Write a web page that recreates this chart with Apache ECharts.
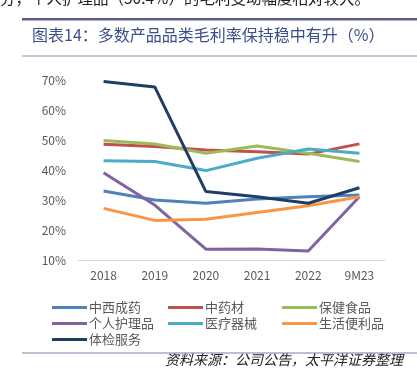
<!DOCTYPE html>
<html><head><meta charset="utf-8">
<script src="https://cdn.jsdelivr.net/npm/echarts@6/dist/echarts.min.js"></script>
<style>html,body{margin:0;padding:0;background:#fff}#c{width:417px;height:385px}</style>
</head><body><div id="c"></div>
<script>
var categories = ['2018','2019','2020','2021','2022','9M23'];
var zhongxichengyao = [33.0, 30.0, 28.9, 30.3, 31.1, 31.7];
var zhongyaocai = [48.6, 47.8, 46.7, 46.1, 45.3, 48.7];
var baojianshipin = [49.8, 48.7, 45.6, 48.0, 45.6, 42.8];
var gerenhuli = [39.1, 28.3, 13.6, 13.7, 13.0, 31.1];
var yiliaoqixie = [43.1, 42.8, 39.8, 43.9, 47.0, 45.6];
var shenghuobianli = [27.2, 23.2, 23.6, 25.8, 28.1, 31.1];
var tijianfuwu = [69.5, 67.7, 32.8, 31.1, 28.9, 34.1];
var seriesNames = ['中西成药','中药材','保健食品','个人护理品','医疗器械','生活便利品','体检服务'];
var seriesData = [zhongxichengyao, zhongyaocai, baojianshipin, gerenhuli, yiliaoqixie, shenghuobianli, tijianfuwu];
var colors = ['#4F81BD','#C0504D','#9BBB59','#8064A2','#4BACC6','#F79646','#1F3D66'];
var yTicks = {min: 10, max: 70, interval: 10};

var FONT = '"Noto Sans CJK SC", "Noto Sans", sans-serif';
var chart = echarts.init(document.getElementById('c'), null, {renderer: 'canvas'});
var legendCommon = {
  orient: 'vertical', itemWidth: 35, itemHeight: 13, itemGap: 3,
  icon: 'path://M0,5 L35,5 L35,8 L0,8 Z',
  textStyle: {fontFamily: FONT, fontSize: 13, color: '#595959', padding: [0,0,0,-3]}
};
chart.setOption({
  animation: false,
  color: colors,
  textStyle: {fontFamily: FONT},
  grid: {left: 78, right: 32, top: 80, bottom: 125},
  xAxis: {
    type: 'category', data: categories, boundaryGap: true,
    axisLine: {lineStyle: {color: '#d9d9d9', width: 1}},
    axisTick: {show: false},
    axisLabel: {color: '#595959', fontSize: 12, margin: 9, fontFamily: FONT}
  },
  yAxis: {
    type: 'value', min: yTicks.min, max: yTicks.max, interval: yTicks.interval,
    axisLine: {show: false}, axisTick: {show: false}, splitLine: {show: false},
    axisLabel: {color: '#595959', fontSize: 12, margin: 12, fontFamily: FONT, formatter: '{value}%'}
  },
  legend: [
    Object.assign({left: 47, top: 296, data: ['中西成药','个人护理品','体检服务']}, legendCommon),
    Object.assign({left: 163, top: 296, data: ['中药材','医疗器械']}, legendCommon),
    Object.assign({left: 277, top: 296, data: ['保健食品','生活便利品']}, legendCommon)
  ],
  series: seriesNames.map(function(n, i){
    return {name: n, type: 'line', data: seriesData[i], symbol: 'none',
      lineStyle: {width: 3, color: colors[i]}, itemStyle: {color: colors[i]}};
  }),
  graphic: [
    {type: 'text', left: 0, top: -10, style: {text: '分，个人护理品（30.4%）的毛利变动幅度相对较大。', font: '15.5px ' + FONT, fill: '#222'}},
    {type: 'rect', shape: {x: 22, y: 18, width: 395, height: 2.5}, style: {fill: '#5b5b8c'}},
    {type: 'text', left: 32, top: 27, style: {text: '图表14：多数产品品类毛利率保持稳中有升（%）', font: '16px ' + FONT, fill: '#3a4f8a'}},
    {type: 'rect', shape: {x: 22, y: 55.5, width: 395, height: 1}, style: {fill: '#8c8cb0'}},
    {type: 'rect', shape: {x: 22, y: 352.5, width: 395, height: 1}, style: {fill: '#7f7fa6'}},
    {type: 'text', right: 14, top: 353, style: {text: '资料来源：公司公告，太平洋证券整理', font: 'italic 14px ' + FONT, fill: '#222'}}
  ]
});
</script></body></html>
